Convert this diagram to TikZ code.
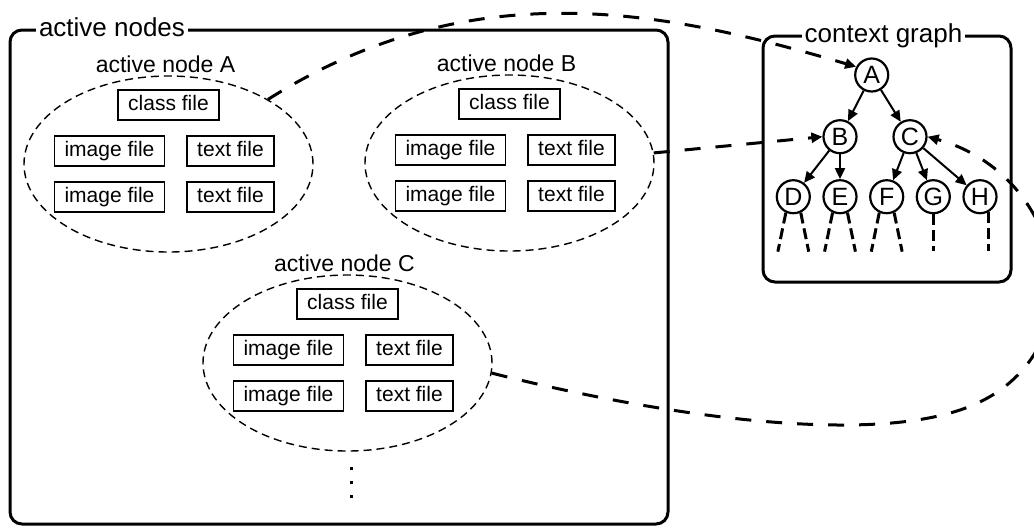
\documentclass[tikz,border=0pt]{standalone}
\usepackage{fontspec}
\setmainfont{Liberation Sans}
\usetikzlibrary{arrows.meta,shapes.geometric}

\tikzset{
  outerbox/.style={line width=1.5pt, rounded corners=6pt},
  boxtitle/.style={fill=white, inner xsep=1.5pt, inner ysep=1pt, anchor=base, font=\fontsize{13}{15}\selectfont},
  actnode/.style={draw, ellipse, dash pattern=on 4pt off 2.5pt, line width=0.7pt, minimum width=144.5pt, minimum height=88pt, inner sep=0pt},
  grouplbl/.style={anchor=base, font=\fontsize{11.5}{13}\selectfont},
  filebox/.style={draw, line width=0.75pt, text height=7.8pt, text depth=2.2pt, inner xsep=5pt, inner ysep=2.5pt, font=\fontsize{10.5}{12}\selectfont},
  gnode/.style={draw, circle, line width=1.1pt, minimum size=16.5pt, inner sep=0pt, font=\fontsize{12.5}{14}\selectfont},
  gedge/.style={line width=1pt, -{Triangle[length=5.5pt,width=5pt]}},
  stub/.style={line width=1.5pt, dash pattern=on 5.5pt off 2.5pt},
  link/.style={line width=1.5pt, dash pattern=on 8pt off 7.5pt, -{Triangle[length=5.5pt,width=5pt]}}
}

\begin{document}
\begin{tikzpicture}[x=0.5pt, y=-0.5pt]
\useasboundingbox (0,0) rectangle (1034,527);

\draw[outerbox] (10,30) rectangle (668,524); % active nodes frame
\node[boxtitle] (tActive) at (112,36) {active nodes};
\draw[outerbox] (763,36) rectangle (1011,282); % context graph frame
\node[boxtitle] (tContext) at (883.5,42) {context graph};

% the three active nodes with their files
\foreach \g/\x/\y in {A/168.5/164, B/509.5/163, C/347.5/363} {
  \node[actnode] (an\g) at (\x,\y) {};
  \node[grouplbl] (lbl\g) at (\x-3,\y-92) {active node \g};
  \node[filebox] (cls\g) at (\x,\y-59) {class file};
  \node[filebox] (imgt\g) at (\x-59,\y-13) {image file};
  \node[filebox] (txtt\g) at (\x+62,\y-13) {text file};
  \node[filebox] (imgb\g) at (\x-59,\y+33) {image file};
  \node[filebox] (txtb\g) at (\x+62,\y+33) {text file};
}
\foreach \d in {467,481,495} \fill (350,\d) rectangle ++(3,3); % more nodes

% context graph
\node[gnode] (gA) at (871.7,75) {A};
\node[gnode] (gB) at (840,136.7) {B};
\node[gnode] (gC) at (910,136.7) {C};
\node[gnode] (gD) at (793.3,196.7) {D};
\node[gnode] (gE) at (840,196.7) {E};
\node[gnode] (gF) at (886.7,196.7) {F};
\node[gnode] (gG) at (933.3,196.7) {G};
\node[gnode] (gH) at (980,196.7) {H};

\draw[gedge] (gA) -- (gB);
\draw[gedge] (gA) -- (gC);
\draw[gedge] (gB) -- (gD);
\draw[gedge] (gB) -- (gE);
\draw[gedge] (gC) -- (gF);
\draw[gedge] (gC) -- (gG);
\draw[gedge] (gC) -- (gH);

\foreach \n in {D,E,F} {
  \draw[stub] (g\n.-115) -- ++(-8,39);
  \draw[stub] (g\n.-65) -- ++(8,39);
}
\draw[stub] (gG.south) -- ++(0,37);
\draw[stub] (gH.-60) -- ++(0,39);

% links from active nodes to the graph
\draw[link] (anA.33) .. controls (473,-30) and (667,11) .. (gA.152);
\draw[link] (anB.4) -- (gB.west);
\draw[link] (anC.-4) .. controls (650,413) and (855,445) .. (960,410)
  .. controls (1101,363) and (1072,177) .. (gC.east);

\end{tikzpicture}
\end{document}
